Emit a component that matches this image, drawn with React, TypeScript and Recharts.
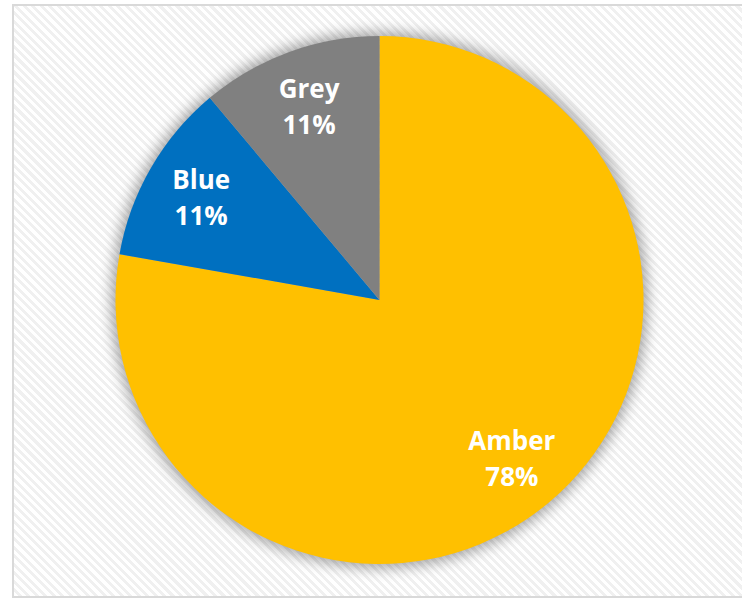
import React from 'react';
import { PieChart, Pie, Cell } from 'recharts';

const categories = ['Amber', 'Blue', 'Grey'];
const values = [7, 1, 1];
const colors = ['#FFC000', '#0070C0', '#808080'];

const data = categories.map((name, i) => ({ name, value: values[i] }));
const total = values.reduce((a, b) => a + b, 0);

const RAD = Math.PI / 180;

const renderLabel = (props: any) => {
  const { cx, cy, midAngle, outerRadius, name, value } = props;
  const r = outerRadius * 0.78;
  const x = cx + r * Math.cos(-midAngle * RAD);
  const y = cy + r * Math.sin(-midAngle * RAD);
  const pct = Math.round((value / total) * 100);
  return (
    <text
      x={x}
      y={y}
      fill="#FFFFFF"
      textAnchor="middle"
      fontFamily="'Open Sans', sans-serif"
      fontWeight={700}
      fontSize={26}
    >
      <tspan x={x} dy={-8}>{name}</tspan>
      <tspan x={x} dy={36}>{pct + '%'}</tspan>
    </text>
  );
};

export default function App() {
  return (
    <div
      style={{
        position: 'absolute',
        left: 0,
        top: 0,
        width: 742,
        height: 598,
        background: '#ffffff',
      }}
    >
      <div
        style={{
          position: 'absolute',
          left: 12,
          top: 4,
          width: 740,
          height: 590,
          border: '2px solid #d9d9d9',
          background:
            'repeating-linear-gradient(45deg, #ffffff 0px, #ffffff 3px, #f0f0f0 3px, #f0f0f0 6px)',
        }}
      />
      <div style={{ position: 'absolute', left: 0, top: 0 }}>
        <PieChart width={742} height={598} margin={{ top: 0, right: 0, bottom: 0, left: 0 }}>
          <defs>
            <filter id="pieShadow" x="-20%" y="-20%" width="140%" height="140%">
              <feGaussianBlur in="SourceAlpha" stdDeviation="7" />
              <feComponentTransfer>
                <feFuncA type="linear" slope="0.35" />
              </feComponentTransfer>
            </filter>
          </defs>
          <Pie
            data={data}
            dataKey="value"
            nameKey="name"
            cx={379.5}
            cy={300}
            outerRadius={268}
            startAngle={90}
            endAngle={-270}
            stroke="none"
            isAnimationActive={false}
            label={false}
            labelLine={false}
          >
            {data.map((d, i) => (
              <Cell key={'s' + i} fill="#000" style={{ filter: 'url(#pieShadow)' }} />
            ))}
          </Pie>
          <Pie
            data={data}
            dataKey="value"
            nameKey="name"
            cx={379.5}
            cy={300}
            outerRadius={264}
            startAngle={90}
            endAngle={-270}
            stroke="none"
            isAnimationActive={false}
            label={renderLabel}
            labelLine={false}
          >
            {data.map((d, i) => (
              <Cell key={'c' + i} fill={colors[i]} />
            ))}
          </Pie>
        </PieChart>
      </div>
    </div>
  );
}
